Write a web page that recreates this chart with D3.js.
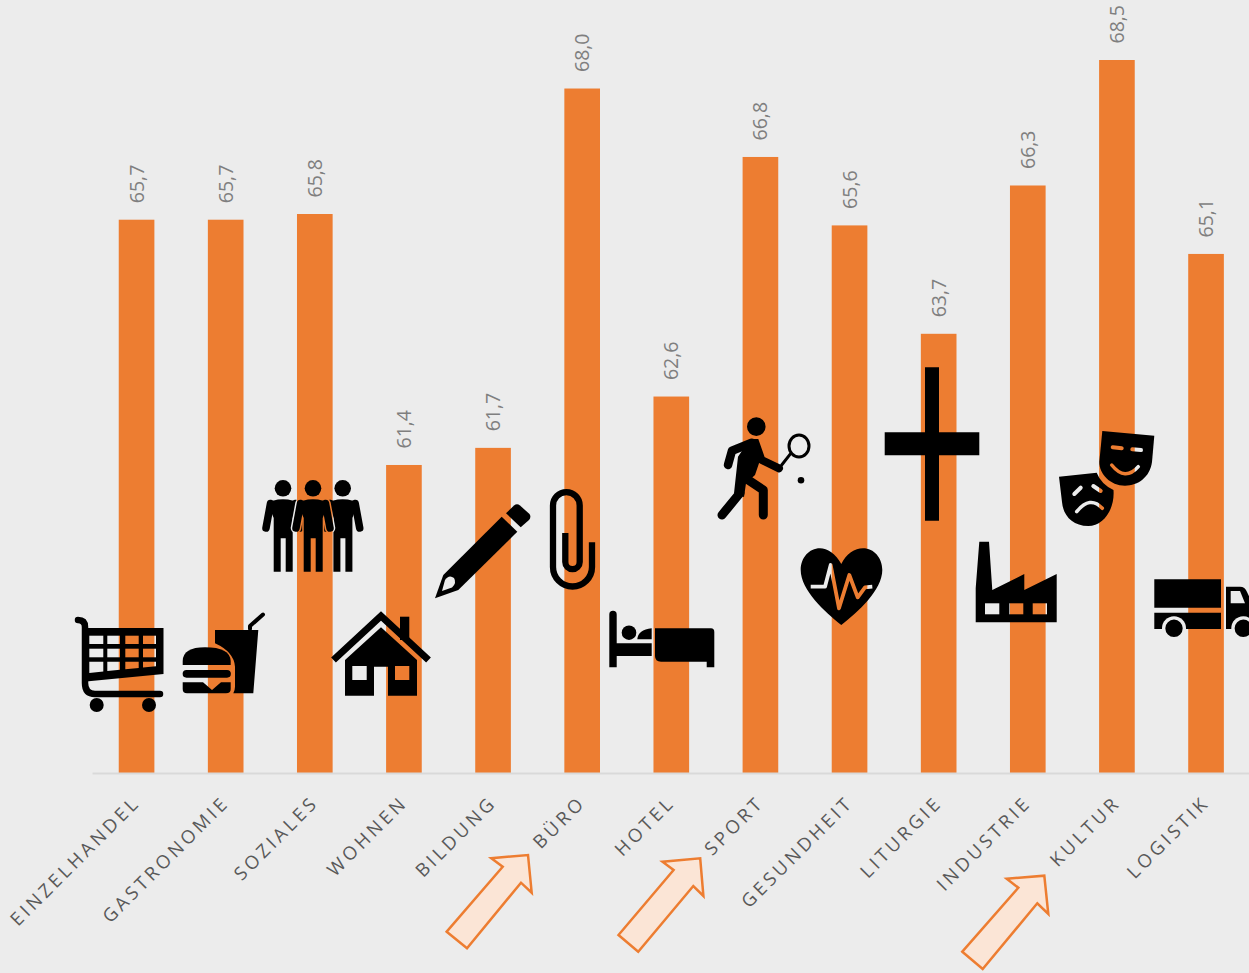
<!DOCTYPE html>
<html><head><meta charset="utf-8">
<script src="https://cdn.jsdelivr.net/npm/d3@7/dist/d3.min.js"></script>
<style>html,body{margin:0;padding:0;background:#ececec;overflow:hidden}svg{display:block}</style>
</head><body><div id="c"></div>
<script>
const categories = ["EINZELHANDEL","GASTRONOMIE","SOZIALES","WOHNEN","BILDUNG","BÜRO","HOTEL","SPORT","GESUNDHEIT","LITURGIE","INDUSTRIE","KULTUR","LOGISTIK"];
const values = [65.7,65.7,65.8,61.4,61.7,68.0,62.6,66.8,65.6,63.7,66.3,68.5,65.1];
const valueFormat = v => v.toFixed(1).replace(".", ",");

const W = 1249, H = 973;
const svg = d3.select("#c").append("svg").attr("width", W).attr("height", H);
svg.append("rect").attr("width", W).attr("height", H).attr("fill", "#ececec");

const x = d3.scaleBand().domain(categories).range([92, 1250.6]).paddingInner(0.6).paddingOuter(0.3);
const y = d3.scaleLinear().domain([56, 70]).range([773, 773 - 14 * 57.04]);

// bars
svg.append("g").selectAll("rect").data(values).join("rect")
  .attr("x", (d, i) => x(categories[i]))
  .attr("width", x.bandwidth())
  .attr("y", d => y(d))
  .attr("height", d => y(56) - y(d))
  .attr("fill", "#ed7d31");

// axis
const axis = svg.append("g").attr("transform", `translate(0,${y(56)})`)
  .call(d3.axisBottom(x).tickSize(0).tickPadding(0));
axis.select(".domain").attr("stroke", "#d9d9d9").attr("stroke-width", 2);
axis.selectAll(".tick text")
  .attr("font-family", "'Open Sans', sans-serif")
  .attr("font-size", 18.5).attr("letter-spacing", 3.5).attr("fill", "#595959")
  .attr("text-anchor", "end")
  .attr("dy", 0).attr("y", 0)
  .attr("transform", "translate(4.8,30.7) rotate(-45)");

// value labels
svg.append("g").selectAll("text").data(values).join("text")
  .attr("transform", (d, i) => `translate(${x(categories[i]) + x.bandwidth() / 2 + 7},${y(d) - 16.5}) rotate(-90)`)
  .attr("font-family", "'Open Sans', sans-serif")
  .attr("font-size", 19.5).attr("fill", "#7f7f7f")
  .text(valueFormat);

// pictograms
const circ = (cx, cy, r) => `M${cx - r},${cy}a${r},${r} 0 1,0 ${2 * r},0a${r},${r} 0 1,0 ${-2 * r},0Z`;
const rectp = (x0, y0, x1, y1) => `M${x0},${y0}H${x1}V${y1}H${x0}Z`;
const person = cx => [
  {d: `M${cx-15},504Q${cx-11},499.3 ${cx},499.3Q${cx+11},499.3 ${cx+15},504L${cx+9.7},518V571.7H${cx+2.7}V538.3H${cx-2.3}V571.7H${cx-9.3}V518Z`},
  {d: `M${cx-12.5},503.5L${cx-17},528`, sw: 7.5},
  {d: `M${cx+12.5},503.5L${cx+17},528`, sw: 7.5},
  {d: circ(cx, 488.3, 8.3)}
];
const icons = [
  { // cart
    solid: [
      {d: "M78,620Q85,620 85,627V683Q85,694 95,694H160", sw: 6.5},
      {d: "M85,628H163.5V674L86,681.5Z"},
      {d: circ(96.7, 705, 7)},
      {d: circ(149, 705, 7)}
    ],
    cut: [
      {d: rectp(89.3,635.7,103.3,644)},{d: rectp(107.3,635.7,120,644)},{d: rectp(125.3,635.7,138.7,644)},{d: rectp(143,635.7,156,644)},
      {d: rectp(89.3,648.7,103.3,657.3)},{d: rectp(107.3,648.7,120,657.3)},{d: rectp(125.3,648.7,138.7,657.3)},{d: rectp(143,648.7,156,657.3)},
      {d: "M89.3,661.7H103.3V671.5L89.3,673Z"},{d: "M107.3,661.7H120V669.7L107.3,671Z"},{d: "M125.3,661.7H138.7V668L125.3,669.2Z"},{d: "M143,661.7H156V666.3L143,667.5Z"}
    ]
  },
  { // burger and drink
    solid: [
      {d: "M182.7,665V661Q183,647.3 205,647.3Q230,647.3 230.7,661V665Z"},
      {d: "M186.5,670H227A3.8,3.8 0 0 1 227,677.7H186.5A3.8,3.8 0 0 1 186.5,670Z"},
      {d: "M182.7,682.3H203L212,690L221,682.3H230.7V689Q230.7,693.3 226,693.3H187Q182.7,693.3 182.7,689Z"},
      {d: "M215,630H258.3L253.3,693.3H233.3Q235,690 235,686.7V666.7Q234,652 215,643.3Z"},
      {d: "M250,629V626L263,614.5", sw: 4}
    ], cut: []
  },
  { // people, sides
    solid: [...person(283), ...person(342.7)],
    cut: person(313).map(e => e.sw ? {d: e.d, sw: e.sw + 3} : {d: e.d, sw: 3, fill: true})
  },
  { solid: person(313), cut: [] },
  { // house
    solid: [
      {d: "M333.5,660L381,616L428.5,660", sw: 7, cap: "butt", join: "miter"},
      {d: rectp(400,616.7,409.3,640)},
      {d: "M345,660L381,627.3L417,660V695.7H388V666.7H374V695.7H345Z"}
    ],
    cut: [{d: rectp(352.3,666,366.7,680)},{d: rectp(395,666,409.3,680)}]
  },
  { // pencil
    solid: [
      {d: "M435,598.3L443.3,575L501.7,516.7L517.3,531.7L458.3,590Z"},
      {d: "M506,513.3L514,505.5Q517,503 520,505.5L529.5,514Q531.5,517 529,520L520.7,527.3Z"}
    ],
    cut: [{d: "M442,591L445,580Q449,574 454,578Q457,583 452,587.5Z"}]
  },
  { // clip
    solid: [{d: "M565.3,533V562A7.2,7.2 0 0 0 579.7,562V505.5A13.3,13.3 0 0 0 553,505.5V567A19.5,19.5 0 0 0 592,567V542.3", sw: 6.3, cap: "butt"}],
    cut: []
  },
  { // bed
    solid: [
      {d: "M609.3,667.3V614.4A3.7,3.7 0 0 1 616.7,614.4V643.3H651.7V656H616.7V667.3Z"},
      {d: circ(629, 632.7, 7.3)},
      {d: "M637.3,639.3Q638,630 651.7,628.3V639.3Z"},
      {d: "M655,628.3H711Q714.3,628.3 714.3,632V667.3H706.7V661.7H661Q655,661.7 655,656Z"}
    ], cut: []
  },
  { // tennis
    solid: [
      {d: circ(756.3, 426.7, 9.3)},
      {d: "M750,439L758.3,439L764.5,456.7L759,463.3L755,475L746,483.3L744,497L734,493.3L738,456.7Z"},
      {d: "M751.7,442.7L732,450.7L728,465", sw: 8.5},
      {d: "M740,493L722,515", sw: 9},
      {d: "M748.3,480L763.3,490V515", sw: 9},
      {d: "M761.7,460L779,468.3", sw: 8},
      {d: "M790,454.3L781.7,465", sw: 3},
      {d: "M789,446a10,11 0 1,0 20,0a10,11 0 1,0 -20,0Z", sw: 3},
      {d: circ(801, 480.3, 3.3)}
    ], cut: []
  },
  { // heart
    solid: [{d: "M841.3,564C836,554 827,548.3 820,548.3C809,548.3 800.7,558 800.7,570C800.7,590 825,612 841.3,625C858,612 882.3,590 882.3,570C882.3,558 874,548.3 863,548.3C855,548.3 846,554 841.3,564Z"}],
    cut: [{d: "M810.7,586.7H825L830.7,565L839,608.3L849.3,575L857.7,597.3L865,587.3L872.3,586.7", sw: 3.8, cap: "butt"}]
  },
  { // cross
    solid: [{d: rectp(925,367.3,939,520.7)},{d: rectp(884.7,432.3,979.3,455.3)}], cut: []
  },
  { // factory
    solid: [{d: "M979.3,541.7H989L992.3,590L1024.3,574V590L1056.7,574V622.3H975.7V588.3Z"}],
    cut: [{d: rectp(985,603.3,999.3,614.3)},{d: rectp(1009.3,603.3,1023.3,614.3)},{d: rectp(1032.7,603.3,1047,614.3)}]
  },
  { // happy mask
    solid: [{d: "M1102.3,431L1154.3,435.7L1152,462C1150,477 1138,485.7 1125,485.7C1110,485.7 1099.3,474 1099.3,462Z"}],
    cut: [
      {d: "M1112.7,447.3L1121.7,448.3", sw: 4},
      {d: "M1132.3,449.3L1141,450", sw: 4},
      {d: "M1111.7,465Q1125,481.7 1138.3,466.7", sw: 3.5}
    ]
  },
  { // sad mask
    solid: [{d: "M1059,476.7L1096.7,472.7Q1101,484 1113.5,490C1115,510 1103,526 1088.3,526C1072,526 1063,515 1062,502Z"}],
    cut: [
      {d: "M1074.3,494L1080.7,487.7", sw: 4},
      {d: "M1093.3,486L1100.7,491", sw: 4},
      {d: "M1076.7,511.7Q1090,495 1102.3,508.3", sw: 3.5}
    ]
  },
  { // truck
    solid: [
      {d: rectp(1154.3,579.3,1221,607.7)},
      {d: rectp(1154.3,612.7,1221,629)},
      {d: "M1226,586.7H1240Q1245,586.7 1247,592L1253,605V629H1226Z"}
    ],
    cut: [
      {d: circ(1174,628.3,12)},{d: circ(1243.3,628.3,12)},
      {d: "M1230.7,591H1240L1245,603.3H1230.7Z"}
    ]
  },
  { // truck wheels
    solid: [{d: circ(1174,628.3,8.7)},{d: circ(1243.3,628.3,8.7)}], cut: []
  }
];
const defs = svg.append("defs");
function paint(sel, e, col) {
  const stroked = e.sw !== undefined;
  sel.append("path").attr("d", e.d)
    .attr("fill", (!stroked || e.fill) ? col : "none")
    .attr("stroke", stroked ? col : "none")
    .attr("stroke-width", stroked ? e.sw : 0)
    .attr("stroke-linecap", e.cap || "round")
    .attr("stroke-linejoin", e.join || "round");
}
icons.forEach((ic, i) => {
  const g = svg.append("g");
  if (ic.cut.length) {
    const m = defs.append("mask").attr("id", "m" + i).attr("maskUnits", "userSpaceOnUse")
      .attr("x", 0).attr("y", 0).attr("width", W).attr("height", H);
    m.append("rect").attr("width", W).attr("height", H).attr("fill", "#fff");
    ic.cut.forEach(e => paint(m, e, "#000"));
    g.attr("mask", `url(#m${i})`);
  }
  ic.solid.forEach(e => paint(g, e, "#000"));
});

// arrows
const arrows = [
  [[446.7,931.7],[467,948.3],[521,882.7],[531.7,892.7],[528,855],[491.3,858.3],[502.7,866.7]],
  [[618.5,935],[638.2,951.7],[693.3,886],[703.4,896],[700.2,858.3],[662.5,861.7],[673.6,870]],
  [[962.3,951.7],[982.7,969],[1037.3,903.3],[1048.3,914],[1044.3,875.7],[1006.7,878.7],[1018.3,887.7]]
];
svg.append("g").selectAll("polygon").data(arrows).join("polygon")
  .attr("points", d => d.join(" "))
  .attr("fill", "#fbe5d6").attr("stroke", "#ed7d31").attr("stroke-width", 2.5);
</script></body></html>
